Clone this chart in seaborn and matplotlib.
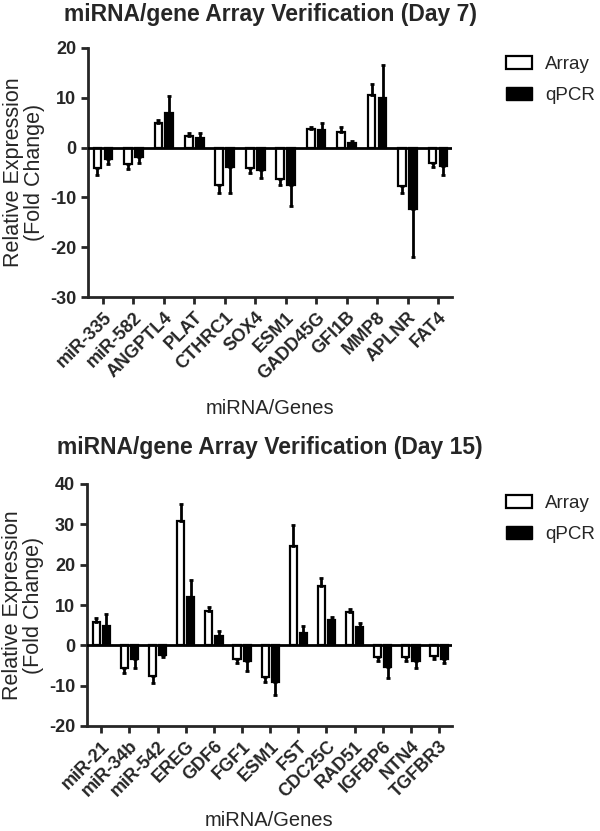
import numpy as np
import pandas as pd
import matplotlib
matplotlib.use("Agg")
import matplotlib.pyplot as plt
import seaborn as sns
from matplotlib.patches import Patch

# Day 7
genes_d7 = ["miR-335", "miR-582", "ANGPTL4", "PLAT", "CTHRC1", "SOX4",
            "ESM1", "GADD45G", "GFI1B", "MMP8", "APLNR", "FAT4"]
array_d7 = [-4.1, -3.3, 4.9, 2.3, -7.5, -4.1, -6.3, 3.7, 3.2, 10.5, -7.7, -3.0]
array_err_d7 = [1.4, 0.9, 0.6, 0.6, 1.6, 1.0, 1.2, 0.5, 0.9, 2.2, 1.4, 0.8]
qpcr_d7 = [-2.3, -1.9, 7.0, 1.9, -3.9, -4.5, -7.5, 3.5, 1.0, 10.0, -12.3, -3.7]
qpcr_err_d7 = [0.9, 1.1, 3.3, 1.1, 5.2, 1.6, 4.3, 1.5, 0.4, 6.5, 9.6, 1.8]

# Day 15
genes_d15 = ["miR-21", "miR-34b", "miR-542", "EREG", "GDF6", "FGF1", "ESM1",
             "FST", "CDC25C", "RAD51", "IGFBP6", "NTN4", "TGFBR3"]
array_d15 = [5.9, -5.7, -7.5, 30.8, 8.4, -3.3, -7.8, 24.7, 14.7, 8.2, -2.9, -2.9, -2.6]
array_err_d15 = [0.9, 1.2, 1.9, 4.2, 1.2, 1.0, 1.3, 5.1, 2.0, 0.8, 0.9, 0.9, 0.7]
qpcr_d15 = [4.9, -3.4, -2.3, 12.0, 2.4, -3.8, -9.2, 3.1, 6.4, 4.5, -5.3, -3.8, -3.3]
qpcr_err_d15 = [2.9, 2.1, 0.6, 4.2, 1.1, 2.5, 3.0, 1.8, 0.7, 1.1, 2.9, 1.9, 1.0]

methods = ["Array", "qPCR"]

sns.set_style("ticks")
plt.rcParams["font.family"] = ["Liberation Sans", "DejaVu Sans"]
plt.rcParams["axes.unicode_minus"] = False


def make_df(genes, arr, qp):
    return pd.DataFrame({
        "gene": genes * 2,
        "method": ["Array"] * len(genes) + ["qPCR"] * len(genes),
        "value": arr + qp,
    })


def draw(ax, genes, arr, arr_err, qp, qp_err, yticks, xlim, xlabel_y, leg_y):
    df = make_df(genes, arr, qp)
    sns.barplot(data=df, x="gene", y="value", hue="method", ax=ax,
                palette={"Array": "white", "qPCR": "black"},
                edgecolor="black", linewidth=1.6, width=0.72, gap=0.3,
                errorbar=None, legend=False)

    # one-sided error bars, away from zero
    for cont, vals, errs in zip(ax.containers, [arr, qp], [arr_err, qp_err]):
        for bar, v, e in zip(cont, vals, errs):
            xc = bar.get_x() + bar.get_width() / 2
            yerr = [[0], [e]] if v >= 0 else [[e], [0]]
            ax.errorbar(xc, v, yerr=yerr, fmt="none", ecolor="black",
                        elinewidth=2, capsize=1.5, capthick=2)

    ax.axhline(0, color="black", linewidth=2, zorder=5)
    ax.set_ylim(yticks[0], yticks[-1])
    ax.set_yticks(yticks)
    ax.set_xlim(*xlim)
    sns.despine(ax=ax)
    for s in ["left", "bottom"]:
        ax.spines[s].set_linewidth(2)
    ax.tick_params(axis="both", width=2, length=5, labelsize=13)
    for lbl in ax.get_yticklabels():
        lbl.set_fontweight("bold")
    ax.set_xticks(range(len(genes)))
    ax.set_xticklabels(genes, rotation=45, ha="right", rotation_mode="anchor",
                       fontweight="bold", fontsize=13)
    ax.set_ylabel("Relative Expression\n(Fold Change)", fontsize=15.5,
                  linespacing=1.0)
    ax.yaxis.set_label_coords(-0.118, 0.5)
    ax.set_xlabel("miRNA/Genes", fontsize=14.5)
    ax.xaxis.set_label_coords(0.5, xlabel_y)

    handles = [Patch(facecolor="white", edgecolor="black", linewidth=1.6),
               Patch(facecolor="black", edgecolor="black")]
    ax.legend(handles, methods, loc="upper left", bbox_to_anchor=(1.148, leg_y),
              frameon=False, fontsize=13.5, handlelength=1.4, handleheight=0.65,
              labelspacing=0.75, handletextpad=0.7, borderpad=0,
              borderaxespad=0)


fig = plt.figure(figsize=(6, 8.31), dpi=100)
ax1 = fig.add_axes([88 / 600, 1 - 297 / 831, 364 / 600, 249 / 831])
ax2 = fig.add_axes([87 / 600, 1 - 726 / 831, 365 / 600, 242 / 831])

draw(ax1, genes_d7, array_d7, array_err_d7, qpcr_d7, qpcr_err_d7,
     [-30, -20, -10, 0, 10, 20], (-0.49, 11.46), -0.408, 0.968)
draw(ax2, genes_d15, array_d15, array_err_d15, qpcr_d15, qpcr_err_d15,
     [-20, -10, 0, 10, 20, 30, 40], (-0.51, 12.46), -0.352, 0.955)

fig.text(270 / 600, 1 - 15 / 831, "miRNA/gene Array Verification (Day 7)",
         ha="center", va="center", fontsize=16.5, fontweight="bold")
fig.text(270 / 600, 1 - 448 / 831, "miRNA/gene Array Verification (Day 15)",
         ha="center", va="center", fontsize=16.5, fontweight="bold")

fig.savefig("out.png", dpi=100)
